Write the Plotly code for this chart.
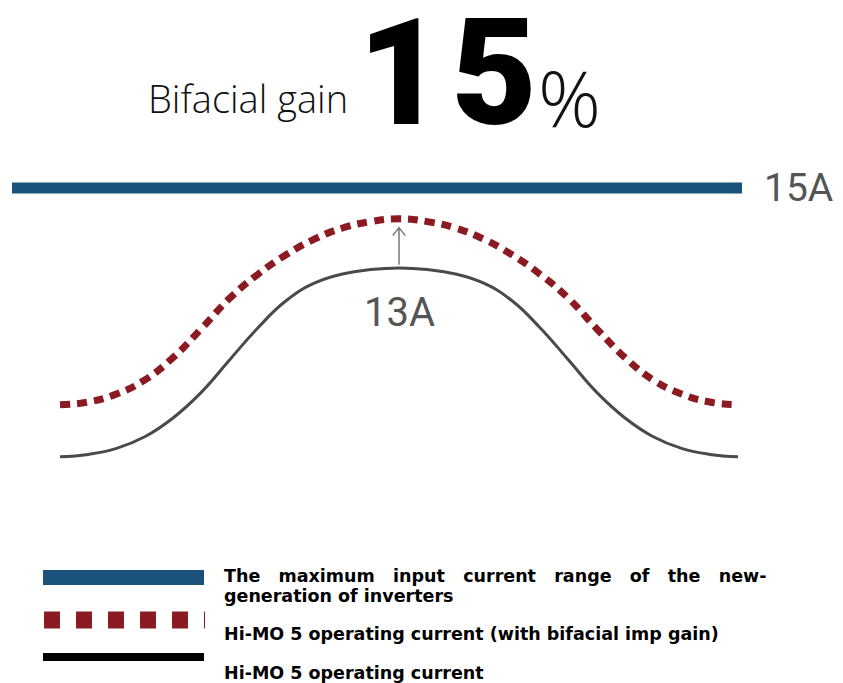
import plotly.graph_objects as go

# Time of day (h) and module current (A)
hours = [6.0, 6.5, 7.0, 7.5, 8.0, 8.5, 9.0, 9.5, 10.0, 10.5, 11.0, 11.5, 12.0,
         12.5, 13.0, 13.5, 14.0, 14.5, 15.0, 15.5, 16.0, 16.5, 17.0, 17.5, 18.0]
imp_front = [8.28, 8.34, 8.49, 8.78, 9.25, 9.89, 10.70, 11.50, 12.18, 12.62, 12.85, 12.96, 13.0,
             12.96, 12.85, 12.62, 12.18, 11.50, 10.70, 9.89, 9.25, 8.78, 8.49, 8.34, 8.28]
imp_bifacial = [9.58, 9.65, 9.85, 10.20, 10.76, 11.48, 12.24, 12.84, 13.33, 13.72, 14.00, 14.16, 14.23,
                14.16, 14.00, 13.72, 13.33, 12.84, 12.24, 11.48, 10.76, 10.20, 9.85, 9.65, 9.58]
inverter_hours = [5.15, 18.07]
inverter_max = [15.0, 15.0]

peak_hour = 12.0
peak_front = 13.0
peak_bifacial = 14.23

legend_labels = [
    "The maximum input current range of the new-",
    "generation of inverters",
    "Hi-MO 5 operating current (with bifacial imp gain)",
    "Hi-MO 5 operating current",
]

BLUE = "#1a527c"
RED = "#8b1a22"
GREY = "#4a4a4a"

W, H = 843, 683


def px(x):
    return x / W


def py(y):
    return 1 - y / H


fig = go.Figure()

fig.add_trace(go.Scatter(x=inverter_hours, y=inverter_max, mode="lines",
                         line=dict(color=BLUE, width=11), hoverinfo="skip"))
fig.add_trace(go.Scatter(x=hours, y=imp_bifacial, mode="lines",
                         line=dict(color=RED, width=7, dash="10px,7px", shape="spline", smoothing=1.3),
                         hoverinfo="skip"))
fig.add_trace(go.Scatter(x=hours, y=imp_front, mode="lines",
                         line=dict(color=GREY, width=3, shape="spline", smoothing=1.3),
                         hoverinfo="skip"))

# arrow from the front-side peak up to the bifacial peak
dx, dy = 0.11, 0.2
y0 = peak_front + 0.08
y1 = peak_bifacial - 0.22
fig.add_shape(type="path",
              path=f"M {peak_hour},{y0} L {peak_hour},{y1} "
                   f"M {peak_hour - dx},{y1 - dy} L {peak_hour},{y1} L {peak_hour + dx},{y1 - dy}",
              line=dict(color="#777777", width=1.5))

fig.add_annotation(x=inverter_hours[1], y=inverter_max[0], xshift=20, text="15A",
                   showarrow=False, xanchor="left", yanchor="middle",
                   font=dict(family="Roboto", size=39, color="#555555"))
fig.add_annotation(x=peak_hour, y=peak_front, yshift=-44, text="13A",
                   showarrow=False, xanchor="center", yanchor="middle",
                   font=dict(family="Roboto", size=40, color="#555555"))

# headline
fig.add_annotation(xref="paper", yref="paper", x=px(146), y=py(126), text="Bifacial gain",
                   showarrow=False, xanchor="left", yanchor="bottom",
                   font=dict(family="Open Sans", size=38, color="#111111", weight=300))
fig.add_annotation(xref="paper", yref="paper", x=px(356), y=py(162),
                   text="1<span style='font-size:30px'> </span>5",
                   showarrow=False, xanchor="left", yanchor="bottom",
                   font=dict(family="Roboto", size=148, color="#000000", weight=900))
fig.add_annotation(xref="paper", yref="paper", x=px(536), y=py(152), text="%",
                   showarrow=False, xanchor="left", yanchor="bottom",
                   font=dict(family="Open Sans", size=78, color="#111111", weight=300))

# legend swatches
fig.add_shape(type="line", xref="paper", yref="paper", x0=px(43), x1=px(204), y0=py(577.5), y1=py(577.5),
              line=dict(color=BLUE, width=15))
fig.add_shape(type="line", xref="paper", yref="paper", x0=px(44), x1=px(205), y0=py(620), y1=py(620),
              line=dict(color=RED, width=17, dash="16px,16px"))
fig.add_shape(type="line", xref="paper", yref="paper", x0=px(43), x1=px(204), y0=py(657), y1=py(657),
              line=dict(color="#000000", width=8))

NB = "\u00a0"
first = (NB * 3).join(legend_labels[0].split(" "))
legend_font = dict(family="DejaVu Sans", size=17.5, color="#000000", weight="bold")
for text, y in [(first, 576), (legend_labels[1], 596), (legend_labels[2], 634), (legend_labels[3], 673)]:
    fig.add_annotation(xref="paper", yref="paper", x=px(222), y=py(y), text=text,
                       showarrow=False, xanchor="left", yanchor="middle", font=legend_font)

fig.update_layout(
    width=W, height=H,
    margin=dict(l=0, r=0, t=0, b=0),
    paper_bgcolor="white", plot_bgcolor="white",
    showlegend=False,
    xaxis=dict(range=[4.938, 19.858], visible=False, fixedrange=True),
    yaxis=dict(range=[2.625, 19.7], visible=False, fixedrange=True),
)

fig.write_html("out.html")
